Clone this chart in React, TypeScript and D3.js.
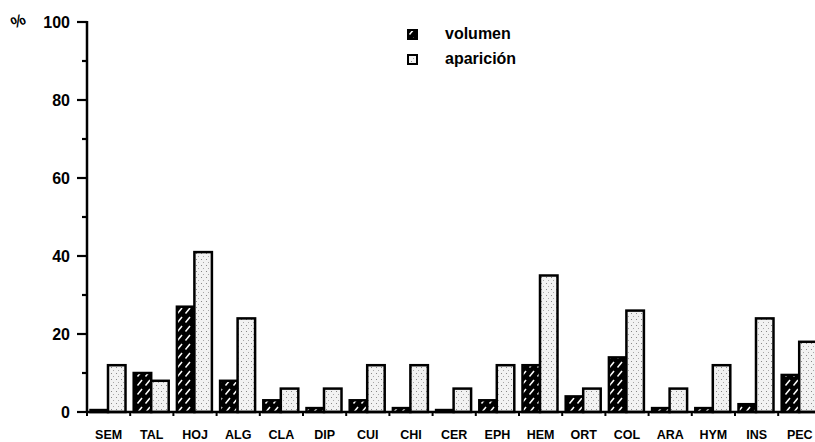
import React from "react";
import * as d3 from "d3";

const categories = ["SEM", "TAL", "HOJ", "ALG", "CLA", "DIP", "CUI", "CHI", "CER", "EPH", "HEM", "ORT", "COL", "ARA", "HYM", "INS", "PEC"];
const volumen = [0.5, 10, 27, 8, 3, 1, 3, 1, 0.5, 3, 12, 4, 14, 1, 1, 2, 9.5];
const aparicion = [12, 8, 41, 24, 6, 6, 12, 12, 6, 12, 35, 6, 26, 6, 12, 24, 18];
const majorTicks = [0, 20, 40, 60, 80, 100];
const minorTicks = [10, 30, 50, 70, 90];
const seriesKeys = ["volumen", "aparición"];

const W = 815;
const H = 442;
const FONT = "'Liberation Sans', Arial, Helvetica, sans-serif";

export default function App() {
  const x0 = 87;
  const step = 43.2;
  const x = d3.scaleBand<string>().domain(categories).range([x0, x0 + step * categories.length]).padding(0);
  const xs = d3.scaleBand<string>().domain(seriesKeys).range([3.5, 38.5]).padding(0);
  const y = d3.scaleLinear().domain([0, 100]).range([412, 22]);
  const base = y(0);

  return (
    <svg width={W} height={H} style={{ position: "fixed", left: 0, top: 0, background: "#fff" }} fontFamily={FONT}>
      <defs>
        <pattern id="hatch" patternUnits="userSpaceOnUse" width={8} height={9}>
          <rect width={8} height={9} fill="#000" />
          <path d="M1.5,7.5 L6,2" stroke="#fff" strokeWidth={1.5} />
        </pattern>
        <pattern id="dots" patternUnits="userSpaceOnUse" width={5} height={6}>
          <rect width={5} height={6} fill="#f2f2f2" />
          <rect x={1} y={1} width={1} height={1} fill="#888" />
          <rect x={3} y={4} width={1} height={1} fill="#a8a8a8" />
        </pattern>
      </defs>

      {categories.map((c, i) => {
        const bx = x(c)!;
        const vv = volumen[i];
        const va = aparicion[i];
        return (
          <g key={c}>
            <rect x={bx + xs("volumen")!} y={y(vv)} width={xs.bandwidth()} height={Math.max(base - y(vv), 0.5)} fill="url(#hatch)" stroke="#000" strokeWidth={2.5} />
            <rect x={bx + xs("aparición")!} y={y(va)} width={xs.bandwidth()} height={base - y(va)} fill="url(#dots)" stroke="#000" strokeWidth={2.5} />
          </g>
        );
      })}

      {/* y axis */}
      <line x1={x0} x2={x0} y1={y(100) - 1} y2={base + 1} stroke="#000" strokeWidth={2.5} />
      {majorTicks.map((t) => (
        <g key={"M" + t}>
          <line x1={x0 - 10} x2={x0} y1={y(t)} y2={y(t)} stroke="#000" strokeWidth={2.2} />
          <text x={70} y={y(t)} dy="0.36em" textAnchor="end" fontSize={16} fontWeight="bold">{t}</text>
        </g>
      ))}
      {minorTicks.map((t) => (
        <line key={"m" + t} x1={x0 - 5} x2={x0} y1={y(t)} y2={y(t)} stroke="#000" strokeWidth={2.2} />
      ))}
      <text x={11} y={27} fontSize={16} fontWeight="bold" transform="rotate(-25 17 21)">%</text>

      {/* x axis */}
      <line x1={x0} x2={W} y1={base} y2={base} stroke="#000" strokeWidth={2.5} />
      {categories.map((c) => (
        <line key={"t" + c} x1={x(c)!} x2={x(c)!} y1={base} y2={base + 4} stroke="#000" strokeWidth={2} />
      ))}
      {categories.map((c) => (
        <text key={"l" + c} x={x(c)! + x.bandwidth() / 2} y={439} textAnchor="middle" fontSize={12.5} fontWeight="bold">{c}</text>
      ))}

      {/* legend */}
      <rect x={408} y={30} width={9} height={9} fill="url(#hatch)" stroke="#000" strokeWidth={2} />
      <text x={445} y={38.5} fontSize={16} fontWeight="bold">{seriesKeys[0]}</text>
      <rect x={408} y={55} width={9} height={9} fill="url(#dots)" stroke="#000" strokeWidth={2} />
      <text x={445} y={63.5} fontSize={16} fontWeight="bold">{seriesKeys[1]}</text>
    </svg>
  );
}
